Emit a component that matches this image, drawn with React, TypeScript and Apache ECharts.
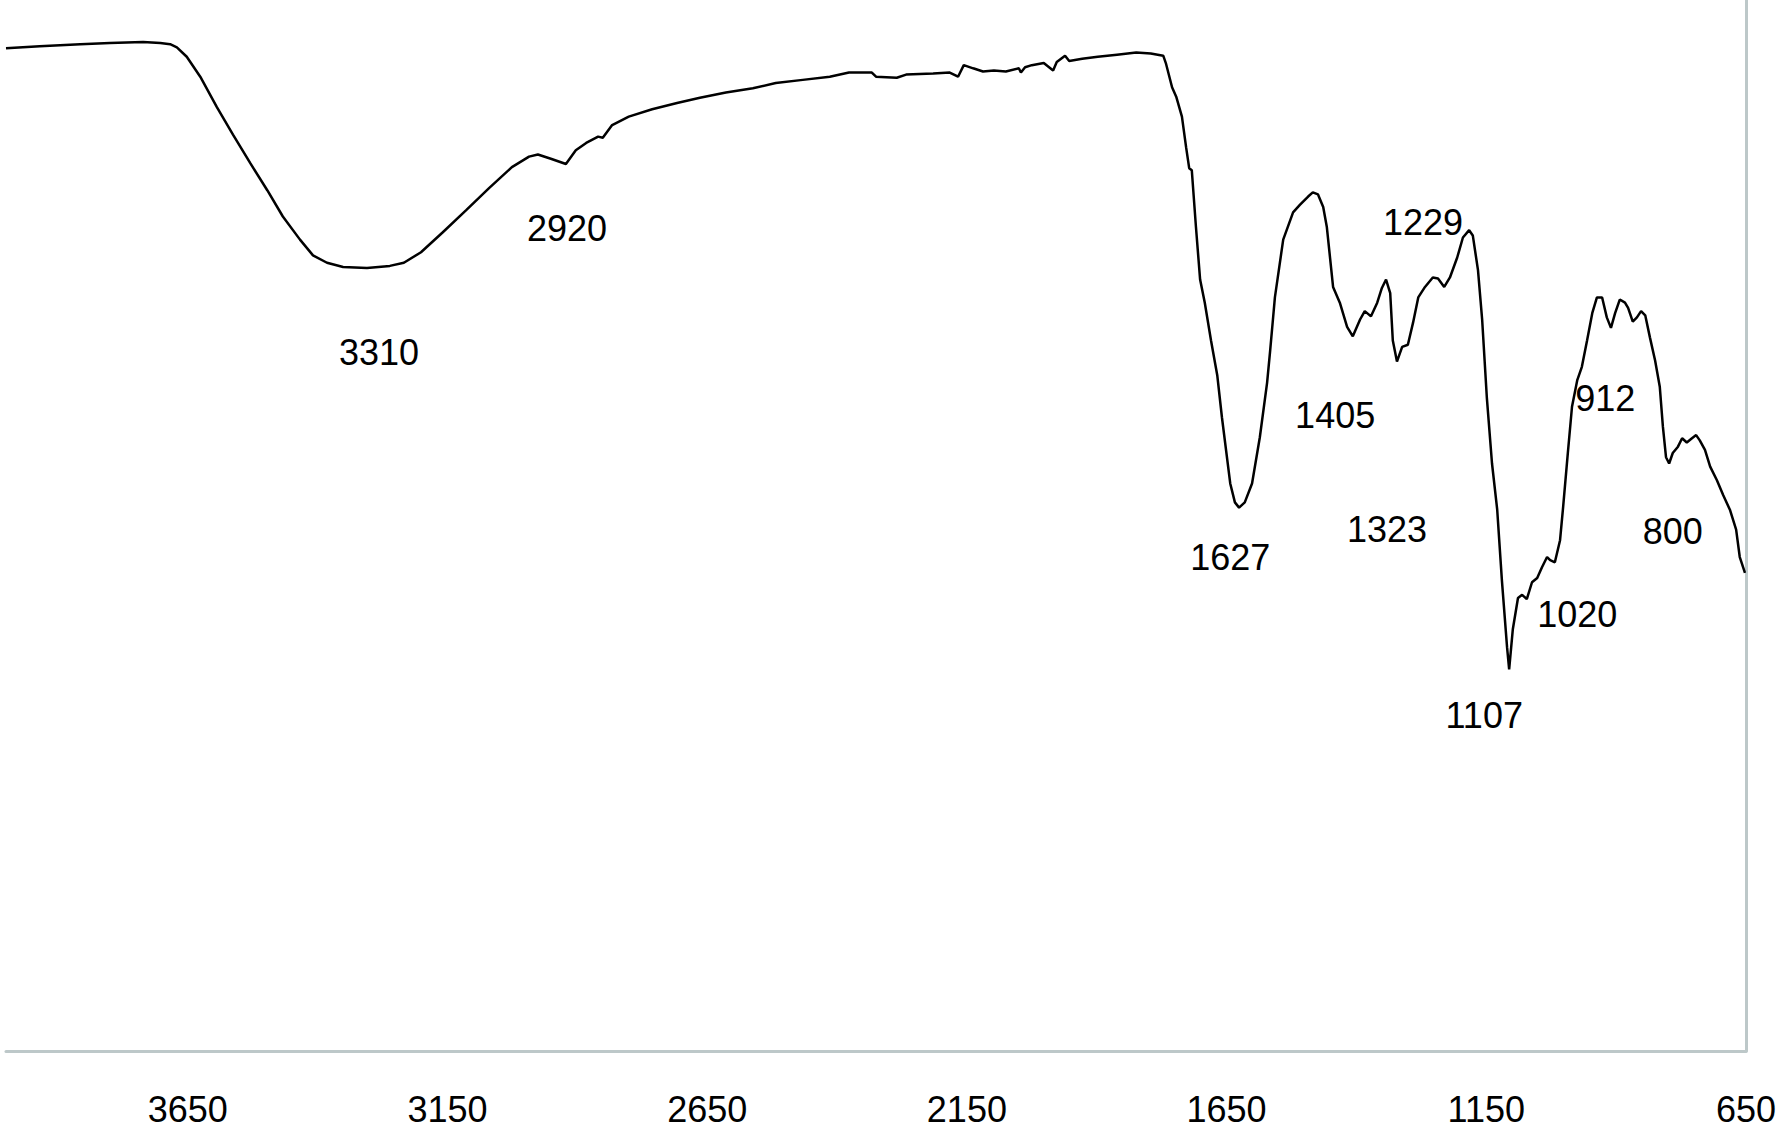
import React, { useEffect, useRef } from "react";
import * as echarts from "echarts";

// FTIR spectrum: wavenumber (cm-1) and transmittance (%, arbitrary)
const wavenumbers = [
  4000, 3935, 3857, 3800, 3736, 3703, 3684, 3671, 3652, 3626, 3594, 3563, 3530, 3497, 3467, 3434,
  3409, 3382, 3351, 3305, 3261, 3234, 3201, 3159, 3114, 3070, 3026, 2993, 2976, 2951, 2922, 2903,
  2883, 2860, 2851, 2833, 2801, 2756, 2708, 2664, 2614, 2562, 2518, 2466, 2414, 2377, 2333, 2325,
  2285, 2267, 2215, 2183, 2167, 2156, 2138, 2119, 2098, 2075, 2050, 2046, 2038, 2025, 2002, 1984,
  1977, 1961, 1953, 1928, 1898, 1861, 1824, 1796, 1772, 1767, 1755, 1747, 1736, 1728, 1722, 1717,
  1709, 1701, 1692, 1680, 1668, 1659, 1643, 1634, 1626, 1615, 1601, 1586, 1572, 1566, 1557, 1541,
  1522, 1509, 1493, 1484, 1474, 1464, 1457, 1445, 1432, 1418, 1407, 1393, 1384, 1372, 1360, 1351,
  1343, 1335, 1330, 1322, 1312, 1301, 1291, 1281, 1268, 1253, 1243, 1231, 1220, 1206, 1195, 1183,
  1176, 1166, 1158, 1149, 1139, 1129, 1120, 1110, 1106, 1099, 1089, 1081, 1072, 1062, 1052, 1043,
  1033, 1027, 1018, 1008, 1002, 993, 985, 975, 966, 956, 946, 937, 927, 918, 910, 902,
  893, 883, 877, 868, 860, 852, 844, 835, 825, 816, 810, 804, 798, 791, 781, 773,
  764, 754, 746, 739, 729, 719, 706, 694, 681, 669, 662, 652,
];
const transmittance = [
  95.4, 95.6, 95.8, 95.9, 96.0, 95.9, 95.8, 95.5, 94.6, 92.7, 89.8, 87.2, 84.5, 81.9, 79.4, 77.2,
  75.7, 75.0, 74.6, 74.5, 74.7, 75.0, 76.0, 77.9, 80.0, 82.1, 84.1, 85.1, 85.3, 84.9, 84.4, 85.7,
  86.4, 87.0, 86.9, 88.1, 88.9, 89.6, 90.2, 90.7, 91.2, 91.6, 92.1, 92.4, 92.7, 93.1, 93.1, 92.7,
  92.6, 92.9, 93.0, 93.1, 92.7, 93.8, 93.5, 93.2, 93.3, 93.2, 93.5, 93.1, 93.6, 93.8, 94.0, 93.3,
  94.1, 94.7, 94.2, 94.4, 94.6, 94.8, 95.0, 94.9, 94.7, 94.0, 91.7, 90.8, 88.9, 86.0, 84.0, 83.8,
  78.4, 73.4, 71.2, 67.6, 64.3, 60.3, 54.0, 52.2, 51.7, 52.2, 54.0, 58.4, 63.6, 66.7, 71.7, 77.2,
  79.8, 80.5, 81.3, 81.7, 81.5, 80.3, 78.4, 72.7, 71.2, 68.9, 68.0, 69.6, 70.4, 69.9, 71.2, 72.6,
  73.4, 72.1, 67.6, 65.6, 67.0, 67.2, 69.3, 71.7, 72.7, 73.6, 73.5, 72.7, 73.6, 75.5, 77.4, 78.1,
  77.6, 74.3, 69.6, 62.2, 55.9, 51.5, 44.8, 38.4, 36.3, 40.1, 43.1, 43.4, 43.0, 44.6, 45.0, 46.0,
  47.0, 46.7, 46.5, 48.6, 51.8, 56.9, 61.3, 63.8, 65.1, 67.6, 70.2, 71.7, 71.7, 69.8, 68.8, 70.2,
  71.5, 71.2, 70.7, 69.4, 69.8, 70.4, 70.0, 67.9, 65.7, 63.2, 59.4, 56.5, 55.9, 56.9, 57.5, 58.3,
  57.9, 58.3, 58.6, 58.1, 57.2, 55.6, 54.3, 52.9, 51.5, 49.6, 47.0, 45.5,
];

// Peak annotations: text, and where each text sits (wavenumber, transmittance)
const peakLabels = ["3310", "2920", "1627", "1405", "1323", "1229", "1107", "1020", "912", "800"];
const peakLabelX = [3282, 2920, 1643, 1441, 1341, 1272, 1154, 975, 921, 791];
const peakLabelY = [66.5, 78.3, 47.0, 60.5, 49.6, 78.8, 31.9, 41.5, 62.1, 49.4];

// Axis ticks
const xTickValues = [650, 1150, 1650, 2150, 2650, 3150, 3650];
const xMin = 650;
const xMax = 4000;

export default function App() {
  const ref = useRef<HTMLDivElement>(null);

  useEffect(() => {
    if (!ref.current) return;
    const chart = echarts.init(ref.current, undefined, { renderer: "svg" });
    const font = "'Liberation Sans', Arial, sans-serif";
    const lineData = wavenumbers.map((w, i) => [w, transmittance[i]]);
    const annData = peakLabels.map((t, i) => [peakLabelX[i], peakLabelY[i], t]);

    chart.setOption({
      animation: false,
      backgroundColor: "#ffffff",
      grid: {
        left: 6,
        right: 37,
        top: 0,
        bottom: 79,
        containLabel: false,
        outerBoundsMode: "none",
      },
      xAxis: {
        type: "value",
        min: xMin,
        max: xMax,
        inverse: true,
        axisLine: { show: true, onZero: false, lineStyle: { color: "#bdc8c9", width: 3 } },
        axisTick: { show: false },
        splitLine: { show: false },
        axisLabel: {
          customValues: xTickValues,
          formatter: (v: number) => String(v),
          fontFamily: font,
          fontSize: 36,
          color: "#000000",
          margin: 40,
        },
      },
      yAxis: {
        type: "value",
        min: 0,
        max: 100,
        position: "right",
        axisLine: { show: true, onZero: false, lineStyle: { color: "#bdc8c9", width: 3 } },
        axisTick: { show: false },
        axisLabel: { show: false },
        splitLine: { show: false },
      },
      series: [
        {
          type: "line",
          data: lineData,
          showSymbol: false,
          symbol: "none",
          smooth: false,
          lineStyle: { color: "#000000", width: 2.5 },
          z: 3,
        },
        {
          type: "scatter",
          data: annData,
          symbolSize: 0,
          silent: true,
          itemStyle: { color: "#000000", opacity: 1 },
          label: {
            show: true,
            position: "inside",
            formatter: (p: any) => p.data[2],
            fontFamily: font,
            fontSize: 36,
            color: "#000000",
            textBorderWidth: 0,
            textBorderColor: "transparent",
          },
          z: 4,
        },
      ],
    });

    return () => {
      chart.dispose();
    };
  }, []);

  return (
    <div
      ref={ref}
      style={{ position: "absolute", left: 0, top: 0, width: 1783, height: 1130, background: "#fff" }}
    />
  );
}
